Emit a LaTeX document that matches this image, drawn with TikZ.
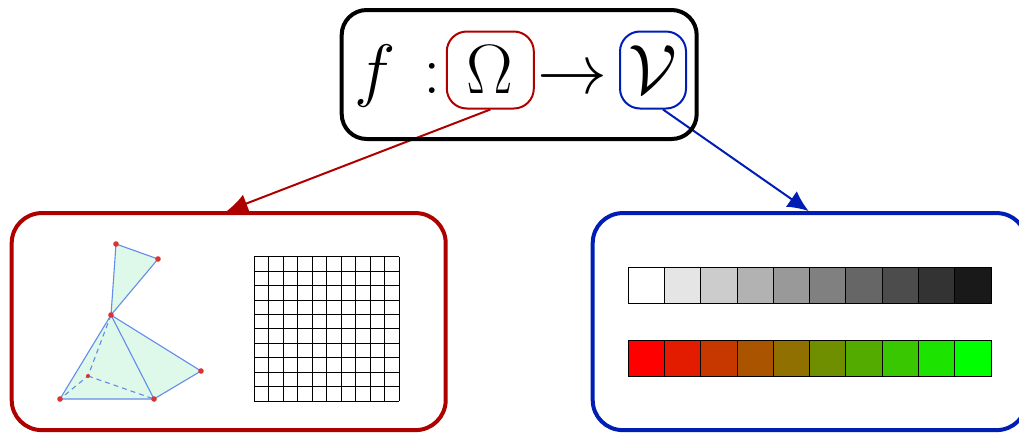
\documentclass[tikz,border=0pt]{standalone}
\usepackage{graphicx}
\usetikzlibrary{arrows.meta}
\pgfdeclarelayer{back}
\pgfsetlayers{back,main}
\definecolor{dred}{RGB}{175,0,0}
\definecolor{dblue}{RGB}{0,30,180}
\definecolor{meshfill}{RGB}{222,248,234}
\definecolor{meshline}{RGB}{100,140,235}
\definecolor{dotred}{RGB}{220,50,50}
\newcommand{\BigTxt}[1]{\scalebox{2.81}{\Huge #1}}
\begin{document}
\begin{tikzpicture}[x=1pt,y=-1pt,
  bigtext/.style={inner sep=0pt},
  frame/.style={draw, rounded corners=#1, inner sep=0pt},
  conn/.style={line width=2pt, -{Latex[length=21pt,width=19pt]}},
  gridline/.style={line width=0.8pt, black},
  cellbox/.style={draw=black, line width=1pt},
  meshedge/.style={draw=meshline, line width=1.1pt, line join=round},
  meshdot/.style={fill=dotred},
]
\useasboundingbox (0,0) rectangle (1019,432);

% top formula box
\node[frame=25pt, line width=4pt, minimum width=355pt, minimum height=129pt] (main) at (519.2,74.5) {};
\node[bigtext, anchor=base] (f) at (375,93) {\BigTxt{$f$}};
\node[bigtext, anchor=base] (colon) at (432,93) {\BigTxt{$:$}};
\node[bigtext, frame=20pt, draw=dred, line width=2pt, minimum width=87pt, minimum height=77pt] (om) at (490.3,70) {\BigTxt{$\Omega$}};
\node[bigtext, anchor=base] (to) at (572,93) {\BigTxt{$\to$}};
\node[bigtext, frame=20pt, draw=dblue, line width=2pt, minimum width=66pt, minimum height=77pt] (vv) at (653,70) {\BigTxt{$\mathcal{V}$}};

% lower boxes
\node[frame=30pt, draw=dred, line width=4pt, minimum width=434pt, minimum height=217pt] (lbox) at (228.7,321.6) {};
\node[frame=30pt, draw=dblue, line width=4pt, minimum width=434pt, minimum height=217pt] (rbox) at (809.7,321.6) {};

% connectors (behind the frames)
\begin{pgfonlayer}{back}
\draw[conn, dred] (om.south) -- ([xshift=-2pt]lbox.north);
\draw[conn, dblue] ([xshift=10pt]vv.south) -- ([xshift=-1pt]rbox.north);
\end{pgfonlayer}

% mesh
\coordinate (A) at (116,244);
\coordinate (B) at (158,259);
\coordinate (C) at (111,315);
\coordinate (D) at (201,371);
\coordinate (E) at (154,399);
\coordinate (F) at (60,399);
\coordinate (G) at (88,376);
\fill[meshfill] (A)--(B)--(C)--cycle (C)--(F)--(E)--cycle (C)--(E)--(D)--cycle;
\draw[meshedge, dash pattern=on 5pt off 4pt] (C)--(G)--(F) (G)--(E);
\draw[meshedge] (A)--(B)--(C)--cycle (C)--(F)--(E)--cycle (C)--(E)--(D)--cycle;
\foreach \p in {A,B,C,D,E,F} \fill[meshdot] (\p) circle (2.8pt);
\fill[meshdot] (G) circle (2pt);

% grid
\foreach \k in {0,...,10} {
  \draw[gridline] (254.3+14.47*\k,256.7) -- (254.3+14.47*\k,401);
  \draw[gridline] (254.3,256.7+14.43*\k) -- (399,256.7+14.43*\k);
}

% colour bars
\foreach \i in {0,...,9} {
  \pgfmathtruncatemacro{\g}{10*\i}
  \pgfmathtruncatemacro{\r}{round(100-100*\i/9)}
  \draw[cellbox, fill=black!\g] (628.3+36.27*\i,267.7) rectangle ++(36.27,36);
  \draw[cellbox, fill=red!\r!green] (628.3+36.27*\i,340) rectangle ++(36.27,36);
}
\end{tikzpicture}
\end{document}
